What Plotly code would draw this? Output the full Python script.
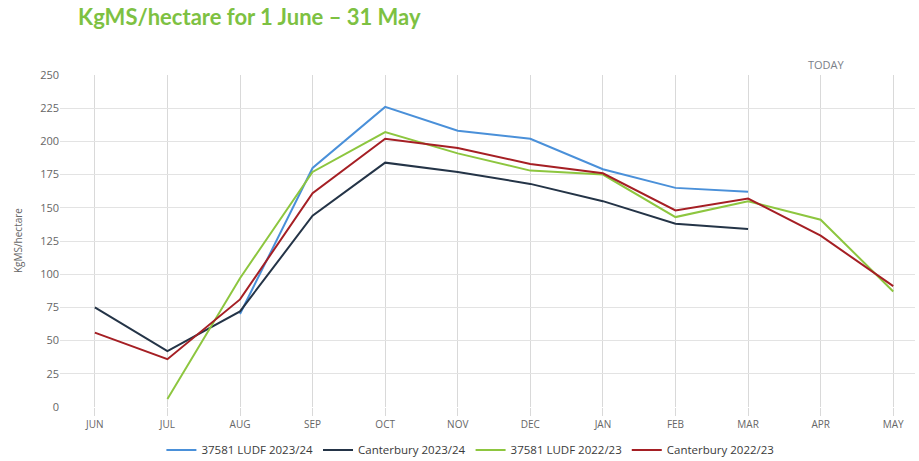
import plotly.graph_objects as go

months = ["JUN", "JUL", "AUG", "SEP", "OCT", "NOV", "DEC", "JAN", "FEB", "MAR", "APR", "MAY"]

ludf_2324 = [None, None, 70, 180, 226, 208, 202, 179, 165, 162, None, None]
cant_2324 = [75, 42, 72, 144, 184, 177, 168, 155, 138, 134, None, None]
ludf_2223 = [None, 6, 97, 177, 207, 191, 178, 175, 143, 155, 141, 87]
cant_2223 = [56, 36, 81, 161, 202, 195, 183, 176, 148, 157, 129, 91]

series = [
    ("37581 LUDF 2023/24", ludf_2324, "#4a90d9"),
    ("Canterbury 2023/24", cant_2324, "#243447"),
    ("37581 LUDF 2022/23", ludf_2223, "#8dc63f"),
    ("Canterbury 2022/23", cant_2223, "#a51f24"),
]

fig = go.Figure()
for name, vals, color in series:
    fig.add_trace(go.Scatter(
        x=months, y=vals, mode="lines", name=name,
        line=dict(color=color, width=2), connectgaps=False,
    ))

fig.add_annotation(x=10.08, y=1.0, xref="x", yref="paper", yanchor="bottom",
                   text="TODAY", showarrow=False, yshift=1,
                   font=dict(family="Open Sans", size=11, color="#7a8089"))

# y-axis title
fig.add_annotation(x=-0.049, y=0.5, xref="paper", yref="paper", textangle=-90,
                   text="KgMS/hectare", showarrow=False, xanchor="center", yanchor="middle",
                   font=dict(family="Open Sans", size=10, color="#666666"))

fig.update_layout(
    width=919, height=461,
    margin=dict(l=60, r=4, t=75, b=54, autoexpand=False),
    paper_bgcolor="white", plot_bgcolor="white",
    title=dict(text="<b>KgMS/hectare for 1 June – 31 May</b>", x=0.085, xanchor="left",
               y=0.962, yanchor="middle",
               font=dict(family="Lato", size=22, color="#7dc142")),
    font=dict(family="Open Sans", color="#666666"),
    showlegend=True,
    legend=dict(orientation="h", x=0.48, xanchor="center", yref="container", y=0.024,
                yanchor="middle",
                font=dict(size=11.5, color="#3a3a3a"), itemwidth=30, traceorder="normal"),
    xaxis=dict(range=[-0.48, 11.3], showgrid=True, gridcolor="#d9d9d9", gridwidth=1,
               tickfont=dict(size=10, color="#666666"), ticks="outside", ticklen=8,
               tickcolor="#d9d9d9", showline=False, zeroline=False, automargin=False),
    yaxis=dict(range=[0, 250], dtick=25, showgrid=True, gridcolor="#e3e3e3", gridwidth=1,
               tickfont=dict(size=11, color="#666666"), zeroline=False, automargin=False),
)

fig.write_html("out.html", config={"displayModeBar": False},
               post_script="document.body.style.margin='0';")
